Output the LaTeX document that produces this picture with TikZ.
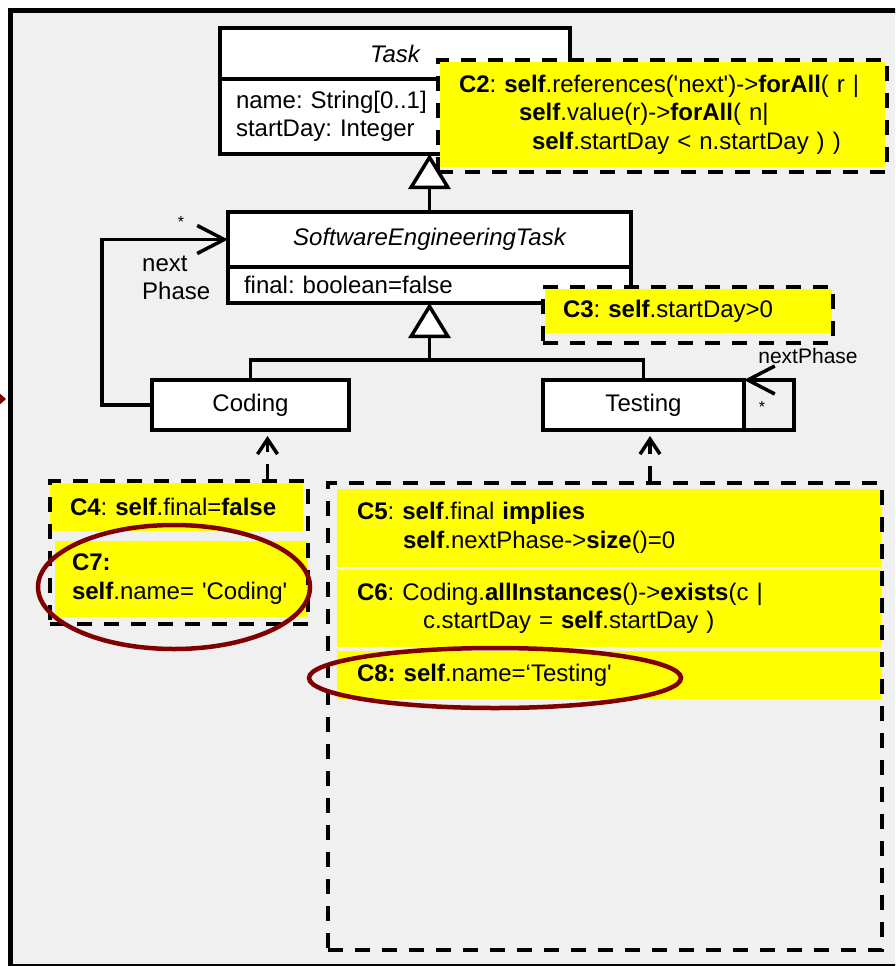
\documentclass[tikz,border=0pt]{standalone}
\usepackage{fontspec}
\setmainfont{Liberation Sans}
\usepackage{tikz}
\usetikzlibrary{arrows.meta, calc, fit, positioning, shapes.geometric}
\definecolor{notebg}{RGB}{255,255,0}
\definecolor{panelbg}{RGB}{240,240,240}
\definecolor{ringred}{RGB}{128,0,0}
\newcommand\umlfont{\fontsize{24}{28.5}\selectfont}
\frenchspacing
\tikzset{
    cls/.style = {draw, line width=3.5pt, fill=white, outer sep=0pt, inner sep=0pt}, % one compartment of a class box
    clsname/.style = {cls, font=\umlfont\itshape}, % abstract class names are italic
    attr/.style = {cls, align=left, inner xsep=16pt},
    note/.style = {fill=notebg, anchor=north west, align=left, inner ysep=0pt, outer sep=0pt}, % yellow constraint band
    grp/.style = {draw, line width=3.5pt, dash pattern=on 15pt off 12pt, inner sep=0pt},
    gen/.style = {line width=3.5pt, -{Triangle[length=35pt,width=42pt,fill=white]}},
    assoc/.style = {line width=3.5pt, -{Straight Barb[length=27pt,width=28pt]}},
    dep/.style = {line width=3.5pt, dash pattern=on 15pt off 12pt, -{Straight Barb[length=15pt,width=20pt]}},
    ring/.style = {ellipse, draw=ringred, line width=4.5pt, inner sep=0pt},
    small/.style = {font=\fontsize{16}{18}\selectfont, inner sep=0pt}
}
\begin{document}
\begin{tikzpicture}[x=1pt, y=-1pt, font=\umlfont]
    \useasboundingbox (0,0) rectangle (895,966);
    \clip (0,0) rectangle (895,966);
    % panel
    \draw[line width=5pt, fill=panelbg] (10.5,10.5) rectangle (915,966.5);
    \fill[ringred] (-3,391) -- (6,399) -- (-3,407) -- cycle;

    % classes
    \node[clsname, minimum width=350pt, minimum height=51pt] (tasktitle) at (395,53.5) {Task};
    \node[attr, text width=318pt, minimum height=75pt, below=0pt of tasktitle] (taskattr) {name: String[0..1]\\startDay: Integer};
    \node[clsname, minimum width=403pt, minimum height=55pt] (settitle) at (429.5,239.5) {SoftwareEngineeringTask};
    \node[attr, text width=371pt, minimum height=36pt, below=0pt of settitle] (setattr) {final: boolean=false};
    \node[cls, minimum width=197pt, minimum height=50pt] (coding) at (250.5,405) {Coding};
    \node[cls, minimum width=201pt, minimum height=50pt] (testing) at (643.5,405) {Testing};

    % generalisations
    \coordinate (split) at ($(setattr.south)+(0,57)$);
    \draw[line width=3.5pt] (coding.north) |- (split) -| (testing.north);
    \draw[gen] (split) -- (setattr.south);
    \draw[gen] (settitle.north) -- (settitle.north |- taskattr.south);

    % nextPhase associations
    \draw[assoc] (coding.west) -- ++(-50,0) |- (settitle.west);
    \draw[assoc] (testing.south east) -- ++(50,0) -- ++(0,-50) -- (testing.north east);
    \node[small] (nextstar) at (181,221.5) {*};
    \node[anchor=west, align=left, inner sep=0pt] (nextlbl) at (142,278) {next\\Phase};
    \node[font=\fontsize{21}{24}\selectfont, inner sep=0pt] (tnextlbl) at (808,356) {nextPhase};
    \node[small] (tstar) at (762,407) {*};

    % constraints C2, C3
    \node[note, text width=407pt, inner xsep=19pt, minimum height=105pt] (c2) at (440,62) {\textbf{C2}: \textbf{self}.references(\textquotesingle next\textquotesingle)->\textbf{forAll}( r |\\\hspace*{60pt}\textbf{self}.value(r)->\textbf{forAll}( n|\\\hspace*{73pt}\textbf{self}.startDay < n.startDay ) )};
    \node[grp, fit={($(c2.north west)+(-2,-2)$) ($(c2.south east)+(2,5)$)}] (c2frame) {};
    \node[note, text width=251pt, inner xsep=18pt, minimum height=44pt] (c3) at (545,289) {\textbf{C3}: \textbf{self}.startDay>0};
    \node[grp, fit={($(c3.north west)+(-2,-2)$) ($(c3.south east)+(1,10)$)}] (c3frame) {};

    % constraints on Coding
    \node[note, text width=213pt, inner xsep=20pt, minimum height=48pt] (c4) at (50,483) {\textbf{C4}: \textbf{self}.final=\textbf{false}};
    \node[note, text width=219pt, inner xsep=17pt, minimum height=76pt] (c7) at (55,541) {\textbf{C7:}\\\textbf{self}.name= \textquotesingle Coding\textquotesingle};
    \node[grp, fit={($(c4.north west)+(0,-2)$) ($(c7.south east)+(0,7)$)}] (codingcons) {};

    % constraints on Testing
    \node[note, text width=505pt, inner xsep=20pt, minimum height=78pt] (c5) at (337,489) {\textbf{C5}: \textbf{self}.final \textbf{implies}\\\hspace*{46pt}\textbf{self}.nextPhase->\textbf{size}()=0};
    \node[note, text width=505pt, inner xsep=20pt, minimum height=77pt] (c6) at (337,570) {\textbf{C6}: Coding.\textbf{allInstances}()->\textbf{exists}(c |\\\hspace*{66pt}c.startDay = \textbf{self}.startDay )};
    \node[note, text width=505pt, inner xsep=20pt, minimum height=48pt] (c8) at (337,651) {\textbf{C8: self}.name=‘Testing\textquotesingle};
    \coordinate (tconsend) at ($(c8.south east)+(0,251)$);
    \node[grp, fit={($(c5.north west)+(-9,-6)$) (tconsend)}] (testingcons) {};

    % constraint anchors
    \path (coding.south) ++(17,0) coordinate (codingdep);
    \path (testing.south) ++(6.5,0) coordinate (testingdep);
    \draw[dep, shorten >=6pt] (codingcons.north -| codingdep) -- (codingdep);
    \draw[dep, shorten >=6pt] (testingcons.north -| testingdep) -- (testingdep);

    % highlighted constraints
    \node[ring, minimum width=272pt, minimum height=124pt] (c7ring) at (174,587) {};
    \node[ring, minimum width=372pt, minimum height=60pt] (c8ring) at (495,678) {};
\end{tikzpicture}
\end{document}
